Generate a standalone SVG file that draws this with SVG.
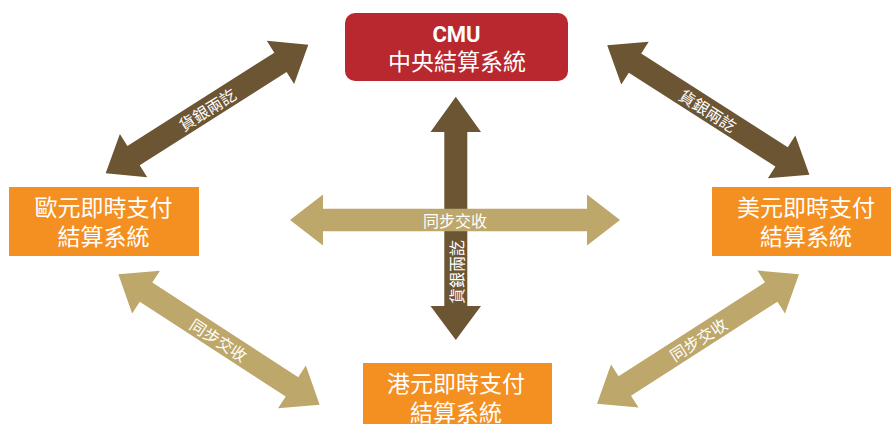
<svg xmlns="http://www.w3.org/2000/svg" width="891" height="424" viewBox="0 0 891 424">
<style>
.dark{fill:#6B5533}
.light{fill:#BDA76A}
.lbl{fill:#FFFFFF;font-family:"Noto Sans CJK TC","Noto Sans CJK SC",sans-serif;font-size:16px;text-anchor:middle;dominant-baseline:central}
.nt{fill:#FFFFFF;font-family:"Noto Sans CJK TC","Noto Sans CJK SC",sans-serif;font-size:23px;text-anchor:middle}
.cmu{fill:#FFFFFF;font-family:Roboto,"Liberation Sans",sans-serif;font-weight:bold;font-size:22px;text-anchor:middle}
.orange{fill:#F48F21}
.red{fill:#B9272F}
</style>
<defs>
<path id="darr" d="M -120 0 L -87 -25.5 L -87 -11.5 L 87 -11.5 L 87 -25.5 L 120 0 L 87 25.5 L 87 11.5 L -87 11.5 L -87 25.5 Z"/>
</defs>
<g id="connectors">
<g transform="translate(207,109) rotate(-32.4)"><use href="#darr" class="dark"/><text class="lbl" x="0" y="0">貨銀兩訖</text></g>
<g transform="translate(708.3,110) rotate(32.6)"><use href="#darr" class="dark"/><text class="lbl" x="0" y="0">貨銀兩訖</text></g>
<g transform="translate(219,339.5) rotate(33)"><use href="#darr" class="light"/><text class="lbl" x="0" y="0">同步交收</text></g>
<g transform="translate(698,339) rotate(-32.7)"><use href="#darr" class="light"/><text class="lbl" x="0" y="0">同步交收</text></g>
<path class="dark" d="M455.8 96.7 L481 132 L467.3 132 L467.3 306 L481 306 L455.8 340 L430.5 306 L444.3 306 L444.3 132 L430.5 132 Z"/>
<text class="lbl" transform="translate(456,272) rotate(-90)" x="0" y="0">貨銀兩訖</text>
<path class="light" d="M290 220 L323 194.5 L323 208.8 L587 208.8 L587 194.5 L620 220 L587 245.5 L587 231.2 L323 231.2 L323 245.5 Z"/>
<text class="lbl" x="455" y="220">同步交收</text>
</g>
<g id="cmu">
<rect class="red" x="345" y="13" width="223" height="68" rx="10"/>
<text class="cmu" x="456.5" y="41.5">CMU</text>
<text class="nt" x="457" y="70">中央結算系統</text>
</g>
<g id="eur">
<rect class="orange" x="9" y="187" width="190" height="69"/>
<text class="nt" x="103.5" y="216">歐元即時支付</text>
<text class="nt" x="103.5" y="245">結算系統</text>
</g>
<g id="usd">
<rect class="orange" x="712" y="187" width="179" height="69"/>
<text class="nt" x="806" y="216">美元即時支付</text>
<text class="nt" x="806" y="245">結算系統</text>
</g>
<g id="hkd">
<rect class="orange" x="363" y="363" width="189" height="61"/>
<text class="nt" x="456" y="392">港元即時支付</text>
<text class="nt" x="456" y="420.5">結算系統</text>
</g>
</svg>
